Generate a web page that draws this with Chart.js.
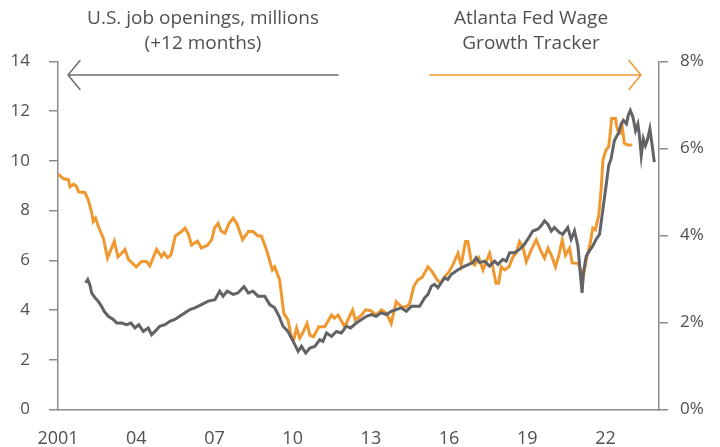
<!DOCTYPE html>
<html>
<head>
  <title>Job openings vs wage growth</title>
  <script src="https://cdn.jsdelivr.net/npm/chart.js"></script>
  <style>
    body { margin: 0; background: #fff; }
    #wrap { width: 720px; height: 447px; }
  </style>
</head>
<body>
<div id="wrap"><canvas id="wageChart"></canvas></div>

<script>
  // x ticks (years) and their labels
  const yearTicks = [2001, 2004, 2007, 2010, 2013, 2016, 2019, 2022];
  const yearLabels = ['2001', '04', '07', '10', '13', '16', '19', '22'];

  // U.S. job openings, millions, shifted +12 months (left axis)
  const openingsYears = [
    2002.06, 2002.14, 2002.23, 2002.29, 2002.42, 2002.54, 2002.67, 2002.77, 2002.93, 2003.12,
    2003.25, 2003.44, 2003.63, 2003.8, 2003.95, 2004.1, 2004.27, 2004.46, 2004.59, 2004.72,
    2004.9, 2005.1, 2005.29, 2005.48, 2005.67, 2005.87, 2006.06, 2006.25, 2006.5, 2006.76,
    2007.02, 2007.2, 2007.33, 2007.49, 2007.72, 2007.9, 2008.13, 2008.3, 2008.48, 2008.67,
    2008.93, 2009.12, 2009.31, 2009.48, 2009.63, 2009.82, 2010.02, 2010.21, 2010.34, 2010.5,
    2010.66, 2010.85, 2011.04, 2011.16, 2011.3, 2011.49, 2011.68, 2011.87, 2012.06, 2012.22,
    2012.44, 2012.64, 2012.83, 2013.02, 2013.2, 2013.4, 2013.6, 2013.78, 2013.97, 2014.16,
    2014.36, 2014.55, 2014.74, 2014.87, 2015.06, 2015.19, 2015.32, 2015.44, 2015.57, 2015.7,
    2015.83, 2015.95, 2016.08, 2016.27, 2016.47, 2016.6, 2016.76, 2016.91, 2017.04, 2017.17,
    2017.36, 2017.55, 2017.74, 2017.87, 2018.06, 2018.19, 2018.32, 2018.51, 2018.7, 2018.89,
    2019.06, 2019.21, 2019.4, 2019.53, 2019.66, 2019.79, 2019.92, 2020.04, 2020.23, 2020.36,
    2020.55, 2020.68, 2020.81, 2020.94, 2021.03, 2021.1, 2021.15, 2021.26, 2021.38, 2021.51,
    2021.64, 2021.77, 2021.9, 2022.02, 2022.12, 2022.21, 2022.34, 2022.41, 2022.51, 2022.6,
    2022.69, 2022.8, 2022.87, 2022.95, 2023.05, 2023.15, 2023.24, 2023.3, 2023.37, 2023.45,
    2023.53, 2023.6, 2023.7, 2023.77, 2023.87
  ];
  const openingsValues = [
    5.10, 5.23, 4.99, 4.69, 4.49, 4.36, 4.15, 3.95, 3.75, 3.62,
    3.48, 3.48, 3.41, 3.48, 3.28, 3.41, 3.14, 3.28, 3.01, 3.14,
    3.35, 3.41, 3.55, 3.62, 3.75, 3.89, 4.02, 4.09, 4.22, 4.36,
    4.42, 4.76, 4.56, 4.76, 4.63, 4.69, 4.94, 4.69, 4.76, 4.56,
    4.56, 4.22, 4.09, 3.75, 3.35, 3.14, 2.74, 2.34, 2.54, 2.27,
    2.47, 2.54, 2.81, 2.74, 3.08, 2.94, 3.14, 3.08, 3.35, 3.28,
    3.48, 3.62, 3.75, 3.82, 3.75, 3.89, 3.82, 3.95, 4.02, 4.09,
    3.95, 4.15, 4.15, 4.15, 4.49, 4.63, 4.96, 5.03, 4.90, 5.10,
    5.30, 5.23, 5.43, 5.57, 5.70, 5.77, 5.84, 5.91, 6.11, 5.91,
    5.97, 5.77, 5.97, 5.84, 6.04, 5.97, 6.31, 6.31, 6.44, 6.65,
    6.92, 7.18, 7.25, 7.39, 7.59, 7.45, 7.18, 7.32, 7.12, 7.05,
    7.32, 6.85, 7.18, 6.58, 5.50, 4.69, 5.50, 6.17, 6.38, 6.58,
    6.85, 7.05, 8.06, 9.00, 9.81, 10.08, 10.82, 10.96, 11.16, 11.49,
    11.63, 11.49, 11.83, 12.03, 11.77, 11.22, 11.49, 11.02, 10.21, 10.89,
    10.62, 10.82, 11.29, 10.76, 9.95
  ];

  // Atlanta Fed Wage Growth Tracker, % (right axis)
  const wageYears = [
    2001.0, 2001.2, 2001.4, 2001.46, 2001.6, 2001.7, 2001.8, 2002.03, 2002.16, 2002.3,
    2002.35, 2002.44, 2002.55, 2002.74, 2002.9, 2003.0, 2003.16, 2003.3, 2003.44, 2003.57,
    2003.7, 2004.0, 2004.2, 2004.4, 2004.52, 2004.78, 2004.97, 2005.07, 2005.2, 2005.33,
    2005.5, 2005.74, 2005.87, 2006.0, 2006.12, 2006.35, 2006.5, 2006.74, 2006.9, 2007.0,
    2007.14, 2007.25, 2007.4, 2007.56, 2007.72, 2007.87, 2008.08, 2008.3, 2008.48, 2008.67,
    2008.8, 2009.0, 2009.22, 2009.31, 2009.5, 2009.66, 2009.82, 2009.95, 2010.04, 2010.15,
    2010.27, 2010.38, 2010.55, 2010.66, 2010.8, 2011.0, 2011.23, 2011.49, 2011.6, 2011.74,
    2012.0, 2012.2, 2012.3, 2012.4, 2012.64, 2012.8, 2013.0, 2013.2, 2013.4, 2013.6,
    2013.78, 2013.97, 2014.17, 2014.36, 2014.49, 2014.64, 2014.8, 2014.97, 2015.19, 2015.35,
    2015.5, 2015.66, 2015.83, 2016.0, 2016.17, 2016.34, 2016.46, 2016.63, 2016.72, 2016.85,
    2016.98, 2017.14, 2017.3, 2017.55, 2017.66, 2017.8, 2017.9, 2018.0, 2018.13, 2018.3,
    2018.45, 2018.57, 2018.7, 2018.83, 2018.96, 2019.15, 2019.34, 2019.5, 2019.66, 2019.79,
    2019.92, 2020.08, 2020.21, 2020.34, 2020.46, 2020.62, 2020.72, 2020.94, 2021.03, 2021.13,
    2021.26, 2021.41, 2021.51, 2021.61, 2021.74, 2021.83, 2021.9, 2022.02, 2022.12, 2022.18,
    2022.23, 2022.38, 2022.43, 2022.51, 2022.6, 2022.64, 2022.72, 2022.85, 2023.02
  ];
  const wageValues = [
    5.41, 5.31, 5.28, 5.12, 5.18, 5.14, 5.00, 4.99, 4.82, 4.51,
    4.32, 4.40, 4.20, 3.94, 3.48, 3.63, 3.87, 3.51, 3.59, 3.68,
    3.45, 3.28, 3.40, 3.40, 3.30, 3.68, 3.51, 3.60, 3.49, 3.55,
    3.99, 4.09, 4.17, 4.03, 3.78, 3.87, 3.71, 3.78, 3.91, 4.17,
    4.28, 4.11, 4.05, 4.28, 4.40, 4.26, 3.90, 4.09, 4.09, 3.99,
    3.99, 3.67, 3.21, 3.28, 2.98, 2.21, 2.06, 1.67, 1.60, 1.87,
    1.64, 1.75, 1.98, 1.71, 1.67, 1.90, 1.90, 2.17, 2.10, 2.17,
    1.90, 2.17, 2.29, 2.06, 2.17, 2.29, 2.27, 2.17, 2.29, 2.21,
    1.98, 2.48, 2.36, 2.36, 2.44, 2.82, 2.98, 3.04, 3.28, 3.17,
    3.02, 2.90, 3.05, 3.17, 3.36, 3.59, 3.32, 3.86, 3.86, 3.40,
    3.32, 3.48, 3.21, 3.59, 3.32, 2.90, 2.90, 3.28, 3.21, 3.28,
    3.51, 3.59, 3.86, 3.74, 3.40, 3.67, 3.90, 3.67, 3.48, 3.71,
    3.55, 3.28, 3.55, 3.90, 3.55, 3.71, 3.37, 3.36, 3.25, 2.98,
    3.44, 3.82, 4.17, 4.13, 4.47, 5.05, 5.74, 5.97, 6.04, 6.35,
    6.69, 6.69, 6.50, 6.35, 6.35, 6.50, 6.12, 6.08, 6.08
  ];

  const leftTitle = ['U.S. job openings, millions', '(+12 months)'];
  const rightTitle = ['Atlanta Fed Wage', 'Growth Tracker'];

  const GREY = '#616366';
  const ORANGE = '#ef9830';
  const AXIS = '#8c8c8c';
  const TEXT = '#505050';
  const FONT = '"Open Sans", Lato, sans-serif';

  const toPoints = (xs, ys) => xs.map((x, i) => ({ x: x, y: ys[i] }));

  // headings and arrows above the plot
  const headerPlugin = {
    id: 'header',
    afterDraw(chart) {
      const ctx = chart.ctx;
      ctx.save();
      ctx.font = '19px ' + FONT;
      ctx.fillStyle = TEXT;
      ctx.textAlign = 'center';
      ctx.textBaseline = 'middle';
      leftTitle.forEach((t, i) => ctx.fillText(t, 203, 19 + i * 25));
      rightTitle.forEach((t, i) => ctx.fillText(t, 531, 19 + i * 25));

      ctx.lineWidth = 1.5;
      ctx.lineCap = 'round';
      ctx.lineJoin = 'round';
      // left arrow
      ctx.strokeStyle = '#6d6d6d';
      ctx.beginPath();
      ctx.moveTo(338, 75); ctx.lineTo(68, 75);
      ctx.moveTo(80, 60.5); ctx.lineTo(68, 75); ctx.lineTo(80, 89.5);
      ctx.stroke();
      // right arrow
      ctx.strokeStyle = ORANGE;
      ctx.beginPath();
      ctx.moveTo(430, 75); ctx.lineTo(641, 75);
      ctx.moveTo(629, 60.5); ctx.lineTo(641, 75); ctx.lineTo(629, 89.5);
      ctx.stroke();
      ctx.restore();
    }
  };

  const yGrid = { drawOnChartArea: false, drawTicks: true, tickLength: 9, color: AXIS, lineWidth: 1.5 };

  const ctx = document.getElementById('wageChart').getContext('2d');
  new Chart(ctx, {
    type: 'line',
    data: {
      datasets: [
        {
          label: 'U.S. job openings, millions (+12 months)',
          data: toPoints(openingsYears, openingsValues),
          yAxisID: 'y',
          borderColor: GREY,
          borderWidth: 3,
          pointRadius: 0,
          tension: 0
        },
        {
          label: 'Atlanta Fed Wage Growth Tracker',
          data: toPoints(wageYears, wageValues),
          yAxisID: 'y1',
          borderColor: ORANGE,
          borderWidth: 3,
          pointRadius: 0,
          tension: 0
        }
      ]
    },
    options: {
      responsive: true,
      maintainAspectRatio: false,
      animation: false,
      layout: { padding: { top: 61.5, left: 0, right: 0, bottom: 0 } },
      plugins: { legend: { display: false }, tooltip: { enabled: false } },
      scales: {
        x: {
          type: 'linear',
          min: 2001,
          max: 2024.05,
          afterBuildTicks: s => { s.ticks = yearTicks.map(v => ({ value: v })); },
          afterFit: s => { s.height = 37.5; },
          grid: { display: false },
          border: { display: true, color: AXIS, width: 1.5 },
          ticks: {
            padding: 11,
            maxRotation: 0,
            color: TEXT,
            font: { family: FONT, size: 18 },
            callback: v => yearLabels[yearTicks.indexOf(v)]
          }
        },
        y: {
          position: 'left',
          min: 0,
          max: 14,
          afterFit: s => { s.width = 58; },
          grid: yGrid,
          border: { display: true, color: AXIS, width: 1.5 },
          ticks: { stepSize: 2, padding: 19, color: TEXT, font: { family: FONT, size: 17 } }
        },
        y1: {
          position: 'right',
          min: 0,
          max: 8,
          afterFit: s => { s.width = 61; },
          grid: yGrid,
          border: { display: true, color: AXIS, width: 1.5 },
          ticks: { stepSize: 2, padding: 12, color: TEXT, font: { family: FONT, size: 17 }, callback: v => v + '%' }
        }
      }
    },
    plugins: [headerPlugin]
  });
</script>
</body>
</html>
